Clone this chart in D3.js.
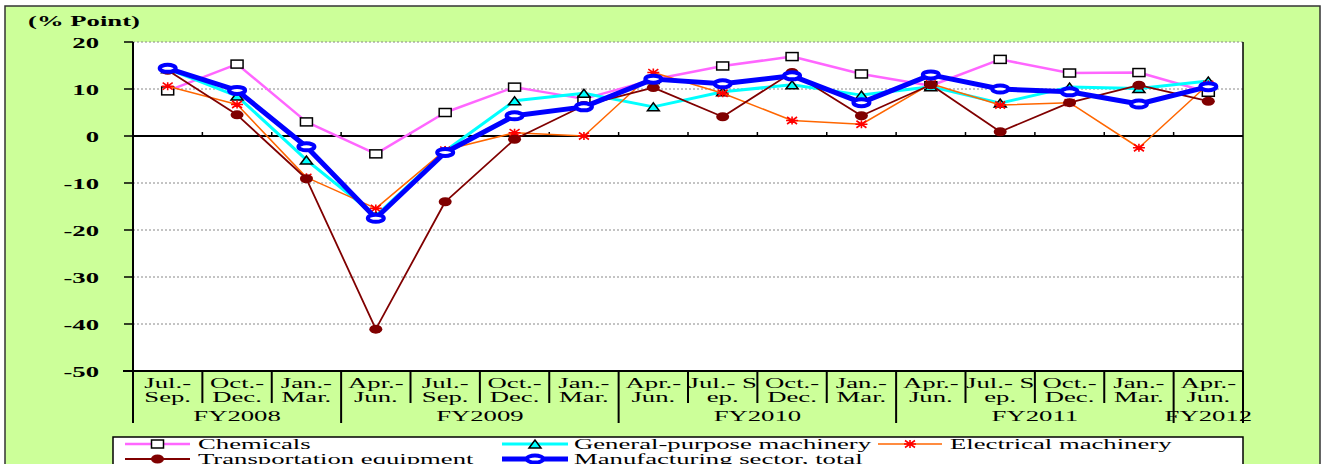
<!DOCTYPE html>
<html>
<head>
<meta charset="utf-8">
<script src="https://cdn.jsdelivr.net/npm/d3@7"></script>
<style>
  html, body { margin: 0; padding: 0; background: #fff; overflow: hidden; }
  svg { display: block; }
  text { font-family: "Liberation Serif", "Times New Roman", serif; }
</style>
</head>
<body>
<div id="chart"></div>
<script>
// quarter labels (two lines each) and fiscal year groups
const quarterTop = ["Jul.-", "Oct.-", "Jan.-", "Apr.-", "Jul.-", "Oct.-", "Jan.-", "Apr.-",
  "Jul.- S", "Oct.-", "Jan.-", "Apr.-", "Jul.- S", "Oct.-", "Jan.-", "Apr.-"];
const quarterBottom = ["Sep.", "Dec.", "Mar.", "Jun.", "Sep.", "Dec.", "Mar.", "Jun.",
  "ep.", "Dec.", "Mar.", "Jun.", "ep.", "Dec.", "Mar.", "Jun."];
const fyLabels = ["FY2008", "FY2009", "FY2010", "FY2011", "FY2012"];
const fySpans = [3, 4, 4, 4, 1];

const yTicks = [20, 10, 0, -10, -20, -30, -40, -50];

// series values (% point)
const chemicals = [9.6, 15.3, 3.0, -3.8, 5.0, 10.4, 7.9, 12.0, 14.9, 16.9, 13.2, 10.7, 16.3, 13.4, 13.5, 9.3];
const generalMachinery = [14.3, 8.5, -5.1, -17.0, -3.2, 7.5, 9.1, 6.2, 9.4, 10.9, 8.7, 10.5, 7.0, 10.4, 10.1, 11.7];
const electricalMachinery = [10.6, 6.7, -8.8, -15.4, -3.0, 0.7, 0.0, 13.5, 9.1, 3.3, 2.5, 11.1, 6.6, 7.1, -2.5, 11.0];
const transportEquipment = [14.0, 4.5, -9.1, -41.1, -14.0, -0.7, 6.5, 10.3, 4.1, 13.5, 4.3, 10.9, 0.9, 7.1, 10.8, 7.4];
const manufacturingTotal = [14.4, 9.7, -2.3, -17.5, -3.5, 4.3, 6.2, 12.1, 11.1, 12.8, 7.1, 13.0, 10.0, 9.4, 6.8, 10.5];

const seriesNames = ["Chemicals", "General-purpose machinery", "Electrical machinery",
  "Transportation equipment", "Manufacturing sector, total"];

(function() {
  const width = 1322, height = 464;
  const SX = 1.78;           // the original picture is stretched sideways
  const plot = { left: 133, right: 1243, top: 42, bottom: 371 };

  const svg = d3.select("#chart").append("svg")
    .attr("width", width)
    .attr("height", height);

  function stretchedText(g, x, y, str, anchor, size, weight) {
    return g.append("text")
      .attr("transform", `translate(${x},${y}) scale(${SX},1)`)
      .attr("text-anchor", anchor)
      .style("font-family", "'Liberation Serif', serif")
      .attr("font-size", size)
      .attr("font-weight", weight || "normal")
      .attr("fill", "#000")
      .text(str);
  }

  // outer frame
  svg.append("rect")
    .attr("x", 5).attr("y", 6)
    .attr("width", 1315).attr("height", 480)
    .attr("fill", "#ccff99")
    .attr("stroke", "#333")
    .attr("stroke-width", 1.5);

  const categories = d3.range(quarterTop.length);
  const x = d3.scaleBand().domain(categories).range([plot.left, plot.right]);
  const y = d3.scaleLinear().domain([-50, 20]).range([plot.bottom, plot.top]);

  // plot area
  svg.append("rect")
    .attr("x", plot.left).attr("y", plot.top)
    .attr("width", plot.right - plot.left).attr("height", plot.bottom - plot.top)
    .attr("fill", "#fff");

  // gridlines
  svg.append("g")
    .selectAll("line")
    .data(yTicks.filter(d => d !== 0 && d !== -50))
    .join("line")
    .attr("x1", plot.left).attr("x2", plot.right)
    .attr("y1", d => y(d)).attr("y2", d => y(d))
    .attr("stroke", "#888")
    .attr("stroke-width", 1)
    .attr("stroke-dasharray", "2,2");

  // right border
  svg.append("line")
    .attr("x1", plot.right).attr("x2", plot.right)
    .attr("y1", plot.top).attr("y2", plot.bottom)
    .attr("stroke", "#000").attr("stroke-width", 1.5);

  // y axis
  const yAxis = svg.append("g");
  yAxis.append("line")
    .attr("x1", plot.left).attr("x2", plot.left)
    .attr("y1", plot.top).attr("y2", plot.bottom)
    .attr("stroke", "#000").attr("stroke-width", 2);
  yAxis.selectAll("line.tick")
    .data(yTicks)
    .join("line")
    .attr("class", "tick")
    .attr("x1", plot.left - 9).attr("x2", plot.left)
    .attr("y1", d => y(d)).attr("y2", d => y(d))
    .attr("stroke", "#000").attr("stroke-width", 1.5);
  yTicks.forEach(t => stretchedText(yAxis, 99, y(t) + 5.5, t, "end", 15, "bold"));
  stretchedText(svg, 28, 26, "(% Point)", "start", 15, "bold");

  // zero line with small ticks at category boundaries
  svg.append("line")
    .attr("x1", plot.left).attr("x2", plot.right)
    .attr("y1", y(0)).attr("y2", y(0))
    .attr("stroke", "#000").attr("stroke-width", 2);
  svg.append("g")
    .selectAll("line")
    .data(categories.slice(1))
    .join("line")
    .attr("x1", d => x(d)).attr("x2", d => x(d))
    .attr("y1", y(0) - 4).attr("y2", y(0))
    .attr("stroke", "#000").attr("stroke-width", 1.5);

  // category axis
  const xAxis = svg.append("g");
  xAxis.append("line")
    .attr("x1", plot.left - 10).attr("x2", plot.right)
    .attr("y1", plot.bottom).attr("y2", plot.bottom)
    .attr("stroke", "#000").attr("stroke-width", 2);

  const fyStarts = [0];
  fySpans.forEach((s, i) => fyStarts.push(fyStarts[i] + s));
  const boundaries = d3.range(quarterTop.length + 1);
  xAxis.selectAll("line.sep")
    .data(boundaries)
    .join("line")
    .attr("class", "sep")
    .attr("x1", d => x.step() * d + plot.left)
    .attr("x2", d => x.step() * d + plot.left)
    .attr("y1", plot.bottom)
    .attr("y2", d => fyStarts.includes(d) ? 423 : 403)
    .attr("stroke", "#000").attr("stroke-width", 2);

  categories.forEach(i => {
    const cx = x(i) + x.bandwidth() / 2;
    stretchedText(xAxis, cx, 388, quarterTop[i], "middle", 15);
    stretchedText(xAxis, cx, 402, quarterBottom[i], "middle", 15);
  });
  fyLabels.forEach((lab, i) => {
    const cx = plot.left + x.step() * (fyStarts[i] + fySpans[i] / 2);
    stretchedText(xAxis, cx, 421, lab, "middle", 15);
  });

  // series styles
  const series = [
    { name: seriesNames[0], values: chemicals, color: "#ff66ff", width: 2.5, marker: "square" },
    { name: seriesNames[1], values: generalMachinery, color: "#00ffff", width: 3, marker: "triangle" },
    { name: seriesNames[2], values: electricalMachinery, color: "#ff6600", width: 1.5, marker: "star" },
    { name: seriesNames[3], values: transportEquipment, color: "#800000", width: 1.8, marker: "dot" },
    { name: seriesNames[4], values: manufacturingTotal, color: "#0000ff", width: 5, marker: "ring" }
  ];

  function drawMarker(g, type, cx, cy) {
    if (type === "square") {
      g.append("rect").attr("x", cx - 6).attr("y", cy - 4).attr("width", 12).attr("height", 8)
        .attr("fill", "#fff").attr("stroke", "#000").attr("stroke-width", 1.5);
    } else if (type === "triangle") {
      g.append("path").attr("d", `M${cx - 6},${cy + 4}L${cx},${cy - 4}L${cx + 6},${cy + 4}Z`)
        .attr("fill", "#00ffff").attr("stroke", "#000").attr("stroke-width", 1.5);
    } else if (type === "star") {
      g.append("path")
        .attr("d", `M${cx - 6},${cy}L${cx + 6},${cy}M${cx},${cy - 4}L${cx},${cy + 4}` +
          `M${cx - 5},${cy - 3.5}L${cx + 5},${cy + 3.5}M${cx - 5},${cy + 3.5}L${cx + 5},${cy - 3.5}`)
        .attr("stroke", "#ff0000").attr("stroke-width", 1.6).attr("fill", "none");
    } else if (type === "dot") {
      g.append("ellipse").attr("cx", cx).attr("cy", cy).attr("rx", 6.5).attr("ry", 4.5)
        .attr("fill", "#800000");
    } else if (type === "ring") {
      g.append("ellipse").attr("cx", cx).attr("cy", cy).attr("rx", 8).attr("ry", 3.5)
        .attr("fill", "#fff").attr("stroke", "#0000ff").attr("stroke-width", 4);
    }
  }

  const line = d3.line()
    .x((d, i) => x(i) + x.bandwidth() / 2)
    .y(d => y(d));

  series.forEach(s => {
    const g = svg.append("g");
    g.append("path")
      .attr("d", line(s.values))
      .attr("fill", "none")
      .attr("stroke", s.color)
      .attr("stroke-width", s.width)
      .attr("stroke-linejoin", "round");
    s.values.forEach((v, i) => drawMarker(g, s.marker, x(i) + x.bandwidth() / 2, y(v)));
  });

  // legend
  const legend = svg.append("g");
  legend.append("rect")
    .attr("x", 113).attr("y", 437)
    .attr("width", plot.right - 113).attr("height", 50)
    .attr("fill", "#fff").attr("stroke", "#000").attr("stroke-width", 1.5);

  const legendPos = [
    { x0: 125, x1: 190, tx: 198, row: 0 },
    { x0: 502, x1: 568, tx: 574, row: 0 },
    { x0: 878, x1: 942, tx: 950, row: 0 },
    { x0: 125, x1: 190, tx: 198, row: 1 },
    { x0: 502, x1: 568, tx: 574, row: 1 }
  ];
  series.forEach((s, i) => {
    const p = legendPos[i];
    const ly = 444 + p.row * 15;
    legend.append("line")
      .attr("x1", p.x0).attr("x2", p.x1)
      .attr("y1", ly).attr("y2", ly)
      .attr("stroke", s.color).attr("stroke-width", s.width);
    drawMarker(legend, s.marker, (p.x0 + p.x1) / 2, ly);
    stretchedText(legend, p.tx, ly + 5, s.name, "start", 15);
  });
})();
</script>
</body>
</html>
